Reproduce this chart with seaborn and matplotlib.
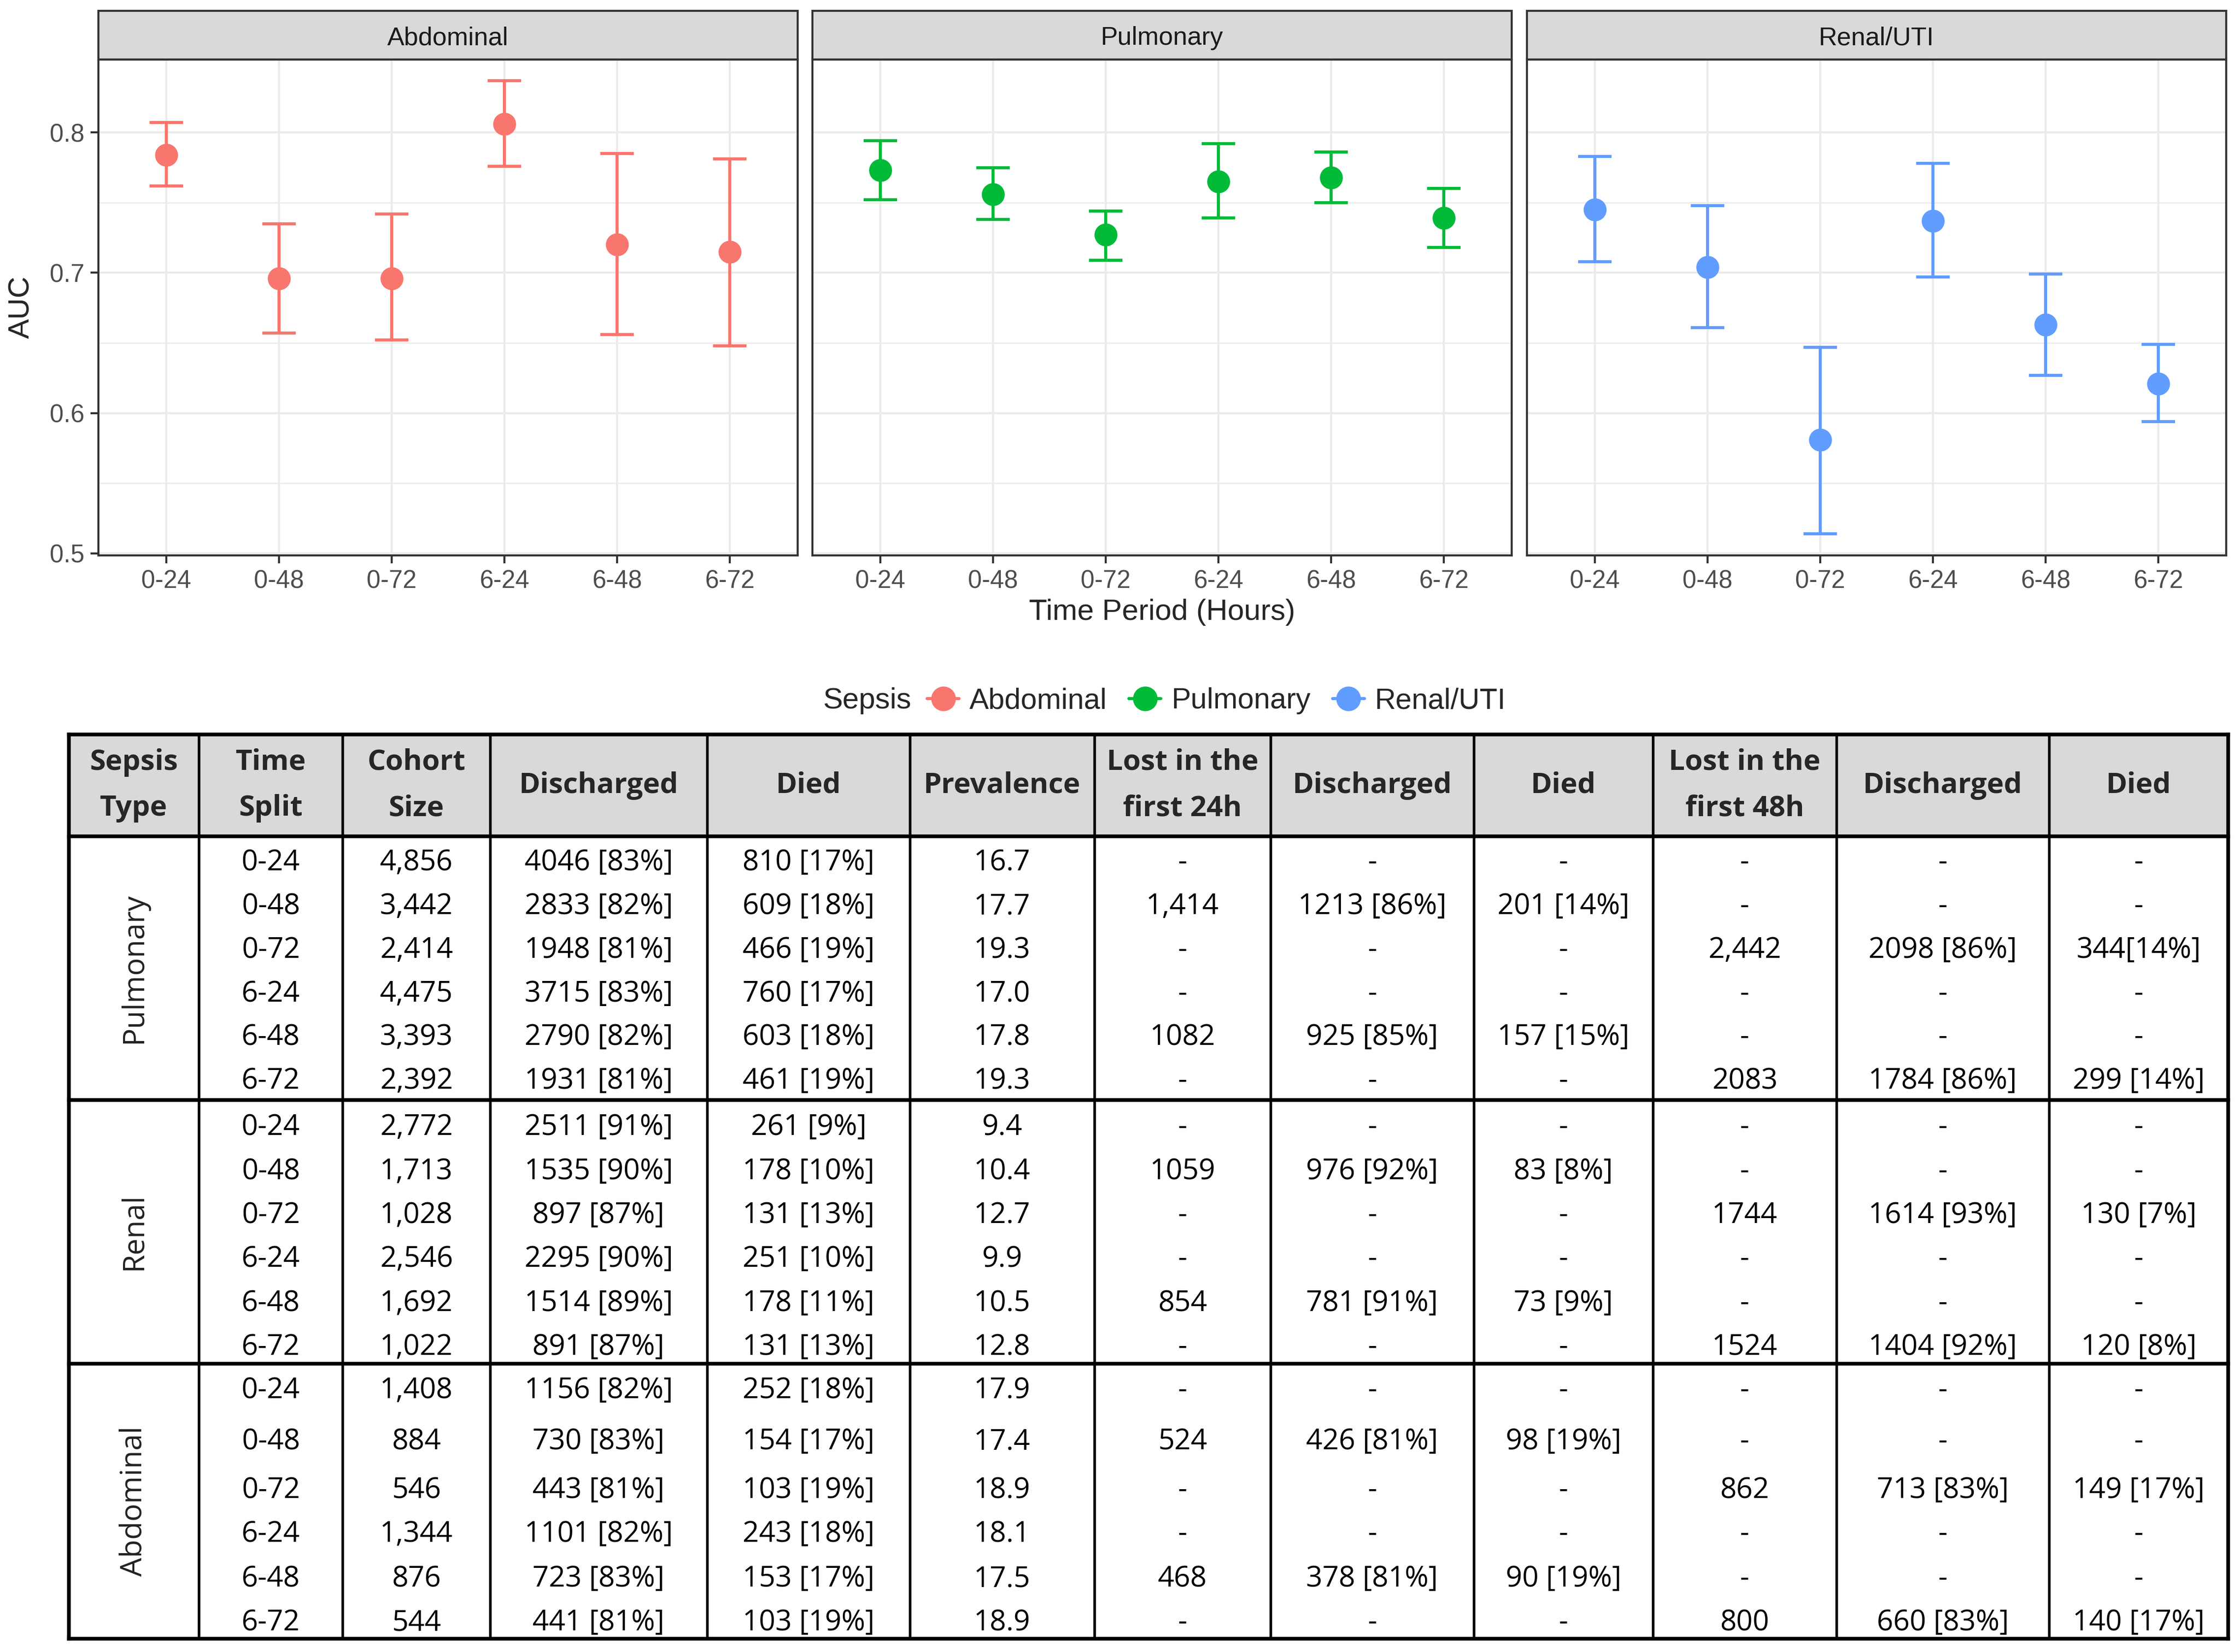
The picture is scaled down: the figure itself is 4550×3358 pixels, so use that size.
import numpy as np
import pandas as pd
import matplotlib
matplotlib.use("Agg")
import matplotlib.pyplot as plt
from matplotlib.patches import Rectangle
from matplotlib.lines import Line2D
import seaborn as sns

# ---- AUC data ----
periods = ["0-24", "0-48", "0-72", "6-24", "6-48", "6-72"]
sepsis_types = ["Abdominal", "Pulmonary", "Renal/UTI"]

abd_auc = [0.784, 0.696, 0.696, 0.806, 0.720, 0.715]
abd_lo = [0.762, 0.657, 0.652, 0.776, 0.656, 0.648]
abd_hi = [0.807, 0.735, 0.742, 0.837, 0.785, 0.781]

pul_auc = [0.773, 0.756, 0.727, 0.765, 0.768, 0.739]
pul_lo = [0.752, 0.738, 0.709, 0.739, 0.750, 0.718]
pul_hi = [0.794, 0.775, 0.744, 0.792, 0.786, 0.760]

ren_auc = [0.745, 0.704, 0.581, 0.737, 0.663, 0.621]
ren_lo = [0.708, 0.661, 0.514, 0.697, 0.627, 0.594]
ren_hi = [0.783, 0.748, 0.647, 0.778, 0.699, 0.649]

# ---- table data ----
group_names = ["Pulmonary", "Renal", "Abdominal"]
headers = ["Sepsis\nType", "Time\nSplit", "Cohort\nSize", "Discharged", "Died", "Prevalence",
           "Lost in the\nfirst 24h", "Discharged", "Died", "Lost in the\nfirst 48h", "Discharged", "Died"]
time_split = periods * 3
cohort = ["4,856", "3,442", "2,414", "4,475", "3,393", "2,392",
          "2,772", "1,713", "1,028", "2,546", "1,692", "1,022",
          "1,408", "884", "546", "1,344", "876", "544"]
discharged = ["4046 [83%]", "2833 [82%]", "1948 [81%]", "3715 [83%]", "2790 [82%]", "1931 [81%]",
              "2511 [91%]", "1535 [90%]", "897 [87%]", "2295 [90%]", "1514 [89%]", "891 [87%]",
              "1156 [82%]", "730 [83%]", "443 [81%]", "1101 [82%]", "723 [83%]", "441 [81%]"]
died = ["810 [17%]", "609 [18%]", "466 [19%]", "760 [17%]", "603 [18%]", "461 [19%]",
        "261 [9%]", "178 [10%]", "131 [13%]", "251 [10%]", "178 [11%]", "131 [13%]",
        "252 [18%]", "154 [17%]", "103 [19%]", "243 [18%]", "153 [17%]", "103 [19%]"]
prevalence = ["16.7", "17.7", "19.3", "17.0", "17.8", "19.3",
              "9.4", "10.4", "12.7", "9.9", "10.5", "12.8",
              "17.9", "17.4", "18.9", "18.1", "17.5", "18.9"]
lost24 = ["-", "1,414", "-", "-", "1082", "-",
          "-", "1059", "-", "-", "854", "-",
          "-", "524", "-", "-", "468", "-"]
dis24 = ["-", "1213 [86%]", "-", "-", "925 [85%]", "-",
         "-", "976 [92%]", "-", "-", "781 [91%]", "-",
         "-", "426 [81%]", "-", "-", "378 [81%]", "-"]
died24 = ["-", "201 [14%]", "-", "-", "157 [15%]", "-",
          "-", "83 [8%]", "-", "-", "73 [9%]", "-",
          "-", "98 [19%]", "-", "-", "90 [19%]", "-"]
lost48 = ["-", "-", "2,442", "-", "-", "2083",
          "-", "-", "1744", "-", "-", "1524",
          "-", "-", "862", "-", "-", "800"]
dis48 = ["-", "-", "2098 [86%]", "-", "-", "1784 [86%]",
         "-", "-", "1614 [93%]", "-", "-", "1404 [92%]",
         "-", "-", "713 [83%]", "-", "-", "660 [83%]"]
died48 = ["-", "-", "344[14%]", "-", "-", "299 [14%]",
          "-", "-", "130 [7%]", "-", "-", "120 [8%]",
          "-", "-", "149 [17%]", "-", "-", "140 [17%]"]

df = pd.DataFrame({
    "sepsis": np.repeat(sepsis_types, len(periods)),
    "period": periods * 3,
    "auc": abd_auc + pul_auc + ren_auc,
    "lo": abd_lo + pul_lo + ren_lo,
    "hi": abd_hi + pul_hi + ren_hi,
})
pal = dict(zip(sepsis_types, ["#F8766D", "#00BA38", "#619CFF"]))

sns.set_theme(style="white")
plt.rcParams["font.family"] = ["Liberation Sans", "DejaVu Sans"]
TFONT = ["Open Sans", "DejaVu Sans"]

W, H = 4550, 3358
fig = plt.figure(figsize=(W / 300, H / 300), dpi=300)


def fx(px):
    return px / W


def fy(py):
    return 1 - py / H


# ---- facet panels ----
panel_left = [200, 1651, 3103]
panel_w = 1421
panel_top, panel_bot = 121, 1129
strip_h = 99 / (panel_bot - panel_top)

for i, st in enumerate(sepsis_types):
    ax = fig.add_axes([fx(panel_left[i]), fy(panel_bot), panel_w / W, (panel_bot - panel_top) / H])
    sub = df[df.sepsis == st]
    sns.scatterplot(data=sub, x="period", y="auc", color=pal[st], s=125, linewidth=0,
                    ax=ax, zorder=3, legend=False)
    ax.errorbar(sub.period, sub.auc, yerr=[sub.auc - sub.lo, sub.hi - sub.auc], fmt="none",
                ecolor=pal[st], elinewidth=1.5, capsize=8.2, capthick=1.5, zorder=2)
    ax.set_xlim(-0.6, 5.6)
    ax.set_ylim(0.4985, 0.852)
    ax.set_yticks([0.5, 0.6, 0.7, 0.8])
    ax.set_yticklabels(["0.5", "0.6", "0.7", "0.8"])
    ax.set_yticks([0.55, 0.65, 0.75], minor=True)
    ax.set_xlabel("")
    ax.set_ylabel("")
    ax.set_axisbelow(True)
    ax.grid(True, which="major", color="#ebebeb", lw=1.0)
    ax.grid(True, which="minor", axis="y", color="#ebebeb", lw=0.6)
    ax.tick_params(axis="both", which="major", direction="out", length=3.9, width=1.0,
                   color="#333333", labelcolor="#4d4d4d", labelsize=12.2, pad=3,
                   bottom=True, left=True)
    ax.tick_params(axis="y", which="minor", length=0)
    if i > 0:
        ax.tick_params(axis="y", left=False, labelleft=False)
    for sp in ax.spines.values():
        sp.set_color("#333333")
        sp.set_linewidth(1.0)
    ax.add_patch(Rectangle((0, 1), 1, strip_h, transform=ax.transAxes, clip_on=False,
                           facecolor="#d9d9d9", edgecolor="#333333", lw=1.0))
    ax.text(0.5, 1 + strip_h / 2 - 0.006, st, transform=ax.transAxes, ha="center", va="center",
            fontsize=12.5, color="#1a1a1a")

fig.text(fx(44), fy(624), "AUC", rotation=90, ha="center", va="center", fontsize=14.5)
fig.text(fx(2362), fy(1245), "Time Period (Hours)", ha="center", va="center", fontsize=14.5)

# legend
handles = [Line2D([], [], color=pal[s], marker="o", markersize=11, lw=1.5) for s in sepsis_types]
fig.text(fx(1672), fy(1425), "Sepsis", ha="left", va="center", fontsize=14.4)
fig.legend(handles, sepsis_types, loc="center", bbox_to_anchor=(fx(2472), fy(1425)), ncol=3,
           frameon=False, fontsize=14.2, handlelength=1.1, handletextpad=0.35, columnspacing=0.75)

# ---- table ----
tab = fig.add_axes([0, 0, 1, 1])
tab.set_xlim(0, W)
tab.set_ylim(H, 0)
tab.axis("off")

col_edges = [140, 404, 696, 996, 1437, 1849, 2224, 2582, 2995, 3359, 3732, 4164, 4528]
table_top, header_bot = 1493, 1700
group_edges = [1700, 2236, 2772, 3331]
row_y = [1747, 1836, 1925, 2014, 2102, 2191,
         2285, 2375, 2464, 2553, 2643, 2732,
         2820, 2924, 3023, 3112, 3203, 3292]

tab.add_patch(Rectangle((col_edges[0], table_top), col_edges[-1] - col_edges[0], header_bot - table_top,
                        facecolor="#d9d9d9", edgecolor="none"))
tab.vlines(col_edges[1:-1], table_top, group_edges[-1], color="black", lw=1.3)
tab.vlines([col_edges[0], col_edges[-1]], table_top, group_edges[-1], color="black", lw=1.8,
           capstyle="projecting")
tab.hlines([table_top] + group_edges, col_edges[0], col_edges[-1], color="black", lw=1.8,
           capstyle="projecting")

centers = [(a + b) / 2 for a, b in zip(col_edges[:-1], col_edges[1:])]
for j, h in enumerate(headers):
    tab.text(centers[j], (table_top + header_bot) / 2, h, ha="center", va="center",
             fontsize=14, fontweight="bold", family=TFONT, linespacing=1.8)

for g, name in enumerate(group_names):
    tab.text(centers[0], (group_edges[g] + group_edges[g + 1]) / 2, name, rotation=90,
             ha="center", va="center", fontsize=14.5, family=TFONT, color="#222222")

columns = [time_split, cohort, discharged, died, prevalence, lost24, dis24, died24, lost48, dis48, died48]
for j, col in enumerate(columns):
    for r, val in enumerate(col):
        tab.text(centers[j + 1], row_y[r], val, ha="center", va="center_baseline",
                 fontsize=14, family=TFONT, color="black")

fig.savefig("out.png", dpi=300)
